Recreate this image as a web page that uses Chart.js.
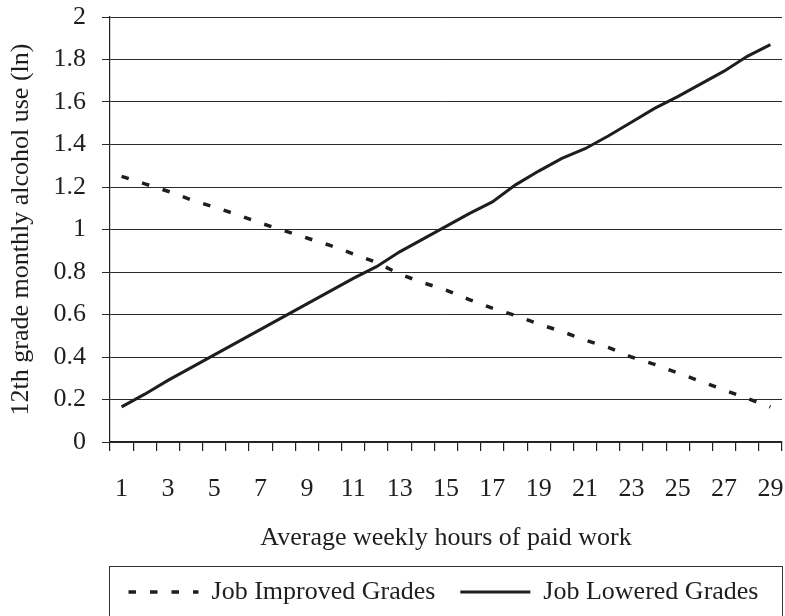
<!DOCTYPE html>
<html>
<head>
<meta charset="utf-8">
<script src="https://cdn.jsdelivr.net/npm/chart.js@4"></script>
<style>
	body { margin: 0; background: #fff; }
	#wrap { width: 785px; height: 616px; }
</style>
</head>
<body>
<div id="wrap"><canvas id="chart" width="785" height="616"></canvas></div>
<script>
const hours = [1, 2, 3, 4, 5, 6, 7, 8, 9, 10, 11, 12, 13, 14, 15, 16, 17, 18, 19, 20, 21, 22, 23, 24, 25, 26, 27, 28, 29];
const improvedGrades = [1.25, 1.215, 1.18, 1.14, 1.105, 1.07, 1.03, 0.995, 0.96, 0.925, 0.885, 0.845, 0.79, 0.75, 0.715, 0.67, 0.63, 0.595, 0.555, 0.52, 0.48, 0.445, 0.4, 0.365, 0.325, 0.285, 0.245, 0.205, 0.165];
const loweredGrades = [0.165, 0.225, 0.29, 0.35, 0.41, 0.47, 0.53, 0.59, 0.65, 0.71, 0.77, 0.825, 0.895, 0.955, 1.015, 1.075, 1.13, 1.21, 1.275, 1.335, 1.38, 1.44, 1.505, 1.57, 1.625, 1.685, 1.745, 1.815, 1.87];
const yTickLabels = ["0", "0.2", "0.4", "0.6", "0.8", "1", "1.2", "1.4", "1.6", "1.8", "2"];

const ink = "#1e1e1e";
const serif = "'Liberation Serif', 'Times New Roman', serif";
const fontSize = 26;

// legend sits under the plot area only, with a thin frame round it
const legendFrame = {
	id: "legendFrame",
	afterLayout(chart) {
		const legend = chart.legend;
		legend.left = chart.chartArea.left - 35;
		legend.right = chart.chartArea.right + 30;
	},
	afterDraw(chart) {
		const ctx = chart.ctx;
		const area = chart.chartArea;
		ctx.save();
		ctx.strokeStyle = "#333";
		ctx.lineWidth = 1;
		ctx.strokeRect(area.left - 0.5, 566.5, area.right - area.left + 1, 60);
		ctx.restore();
	},
};

new Chart(document.getElementById("chart"), {
	type: "line",
	data: {
		labels: hours,
		datasets: [
			{
				label: "Job Improved Grades",
				data: improvedGrades,
				borderColor: ink,
				backgroundColor: ink,
				borderWidth: 3.5,
				borderDash: [7.5, 14],
				pointRadius: 0,
				tension: 0,
			},
			{
				label: "Job Lowered Grades",
				data: loweredGrades,
				borderColor: ink,
				backgroundColor: ink,
				borderWidth: 3,
				pointRadius: 0,
				tension: 0,
			},
		],
	},
	options: {
		responsive: false,
		animation: false,
		devicePixelRatio: 1,
		layout: { padding: { top: 0, right: 0, bottom: 1, left: 0 } },
		plugins: {
			tooltip: { enabled: false },
			legend: {
				position: "bottom",
				labels: {
					usePointStyle: true,
					pointStyle: "line",
					pointStyleWidth: 70,
					padding: 25,
					color: ink,
					font: { family: serif, size: fontSize },
					generateLabels: (chart) =>
						chart.data.datasets.map((ds, i) => ({
							text: ds.label,
							datasetIndex: i,
							fillStyle: ds.borderColor,
							strokeStyle: ds.borderColor,
							fontColor: ink,
							lineWidth: ds.borderWidth,
							lineDash: ds.borderDash || [],
							pointStyle: "line",
							hidden: false,
						})),
				},
			},
		},
		scales: {
			x: {
				offset: true,
				afterFit: (scale) => {
					scale.height = 112;
					scale.paddingLeft = 0;
					scale.paddingRight = 3;
				},
				grid: {
					offset: true,
					color: (c) => (c.index === hours.length ? "#222" : "rgba(0,0,0,0)"),
					tickColor: "#222",
					tickLength: 9,
					lineWidth: 1.2,
				},
				border: { color: "#222", width: 1.2 },
				ticks: {
					autoSkip: false,
					maxRotation: 0,
					padding: 23,
					color: ink,
					font: { family: serif, size: fontSize },
					callback: (v, i) => (i % 2 === 0 ? String(hours[i]) : ""),
				},
				title: {
					display: true,
					text: "Average weekly hours of paid work",
					color: ink,
					font: { family: serif, size: fontSize },
					padding: { top: 10, bottom: 0 },
				},
			},
			y: {
				min: 0,
				max: 2,
				afterFit: (scale) => {
					scale.width = 110;
					scale.paddingTop = 17;
					scale.paddingBottom = 0;
				},
				grid: {
					color: "#2a2a2a",
					tickColor: "#2a2a2a",
					tickLength: 8,
					lineWidth: 1,
				},
				border: { color: "#222", width: 1.2 },
				ticks: {
					stepSize: 0.2,
					padding: 16,
					color: ink,
					font: { family: serif, size: fontSize },
					callback: (v, i) => yTickLabels[i],
				},
				title: {
					display: true,
					text: "12th grade monthly alcohol use (ln)",
					color: ink,
					font: { family: serif, size: fontSize },
					padding: { top: 6, bottom: 10 },
				},
			},
		},
	},
	plugins: [legendFrame],
});
</script>
</body>
</html>
